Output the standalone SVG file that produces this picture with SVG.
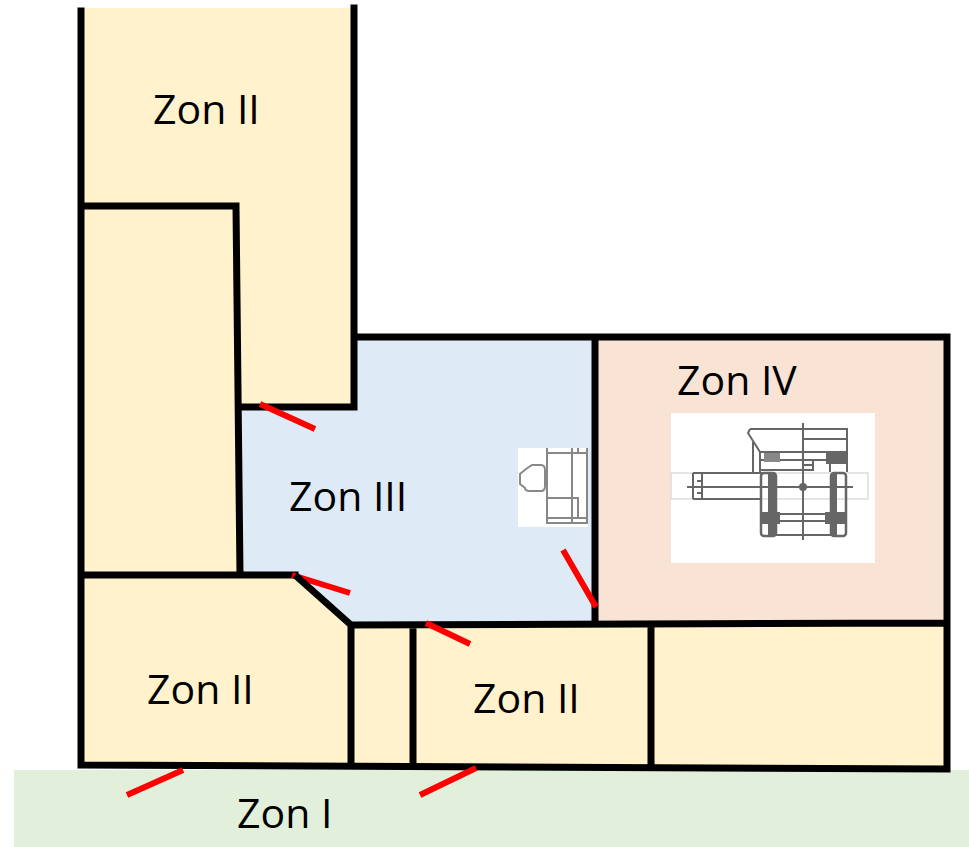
<svg xmlns="http://www.w3.org/2000/svg" width="969" height="847" viewBox="0 0 969 847">
<defs><filter id="soft" x="-5%" y="-5%" width="110%" height="110%"><feGaussianBlur stdDeviation="0.6"/></filter></defs>
<style>
.wall{fill:none;stroke:#000;stroke-width:7;stroke-linecap:square;stroke-linejoin:miter}
.door{stroke:#f00;stroke-width:6;fill:none}
.lbl{font-family:"Open Sans","Liberation Sans",sans-serif;font-size:41px;fill:#000}
.d{fill:none;stroke:#666;stroke-width:2}
.t{fill:none;stroke:#888;stroke-width:2}
</style>
<rect width="969" height="847" fill="#fff"/>
<g id="zone-i"><rect x="14" y="770" width="955" height="77" fill="#e2efda"/><text class="lbl" x="237" y="828">Zon I</text></g>
<g id="zone-ii">
<polygon points="81,8 354,8 354,407 240,407 240,575 295,575 351,625 595,622 947,623 947,769 81,765" fill="#fff2cc"/>
<text class="lbl" x="153" y="124">Zon II</text>
<text class="lbl" x="147" y="704">Zon II</text>
<text class="lbl" x="473" y="713">Zon II</text>
</g>
<g id="zone-iii"><polygon points="354,337 595,337 595,622 351,625 295,575 240,575 240,407 354,407" fill="#deeaf6"/><text class="lbl" x="289" y="511">Zon III</text></g>
<g id="zone-iv"><rect x="595" y="337" width="352" height="286" fill="#f9e3d5"/><text class="lbl" x="677" y="395">Zon IV</text></g>
<g id="desk">
<rect x="518" y="448" width="70" height="79" fill="#fff"/>
<g filter="url(#soft)">
<path class="t" d="M547,448V523H587V448M547,453H587M572,448V523M578,448V453M547,498H578V518H547M547,518H587"/>
<path class="t" d="M526,469L532,465H541Q545,465 545,470V486Q545,491 541,491H530Q525,491 525,488L520,484V474Z"/>
</g>
</g>
<g id="machine">
<rect x="671" y="413" width="204" height="150" fill="#fff"/>
<rect x="671" y="473" width="197" height="26" fill="none" stroke="#ddd" stroke-width="1.5"/>
<g filter="url(#soft)">
<path class="d" d="M750,429H847V472M750,429L748,433L760,452H847M753,442V472M760,452V472M760,460H847M760,470H813V465H803M803,423V540M803,439H846M687,487H853M693,473H762M693,499H762M693,473V499M702,473V499M697,481H702M697,493H702M775,514H830M775,521H830M775,535H832M813,460V465M830,460V472"/>
<rect x="761" y="473" width="15" height="63" rx="3" fill="none" stroke="#666" stroke-width="2.5"/>
<rect x="768" y="473" width="7" height="64" fill="#666"/>
<rect x="832" y="473" width="5" height="64" fill="#666"/>
<rect x="831" y="473" width="15" height="63" rx="3" fill="none" stroke="#666" stroke-width="2.5"/>
<rect x="760" y="512" width="20" height="12" fill="#666"/>
<rect x="825" y="512" width="22" height="12" fill="#666"/>
<rect x="764" y="453" width="16" height="9" fill="#888"/>
<rect x="826" y="453" width="20" height="11" fill="#666"/>
<circle cx="803" cy="487" r="4" fill="#666"/>
</g>
</g>
<g id="walls">
<path class="wall" d="M81,11V765L947,769V337H354V407H241M236,206H81M236,206L240,575M354,8V337M81,575H295M351,625L947,623M595,337V623M351,625V765M413,625V766M651,625V767"/>
</g>
<g id="doors">
<path class="door" d="M260,404L315,429M292,575L350,593M426,623L470,644M563,550L596,607M127,795L183,770M420,795L476,768"/>
<path d="M295,575L351,625" stroke="#000" stroke-width="7" fill="none"/>
</g>
</svg>
